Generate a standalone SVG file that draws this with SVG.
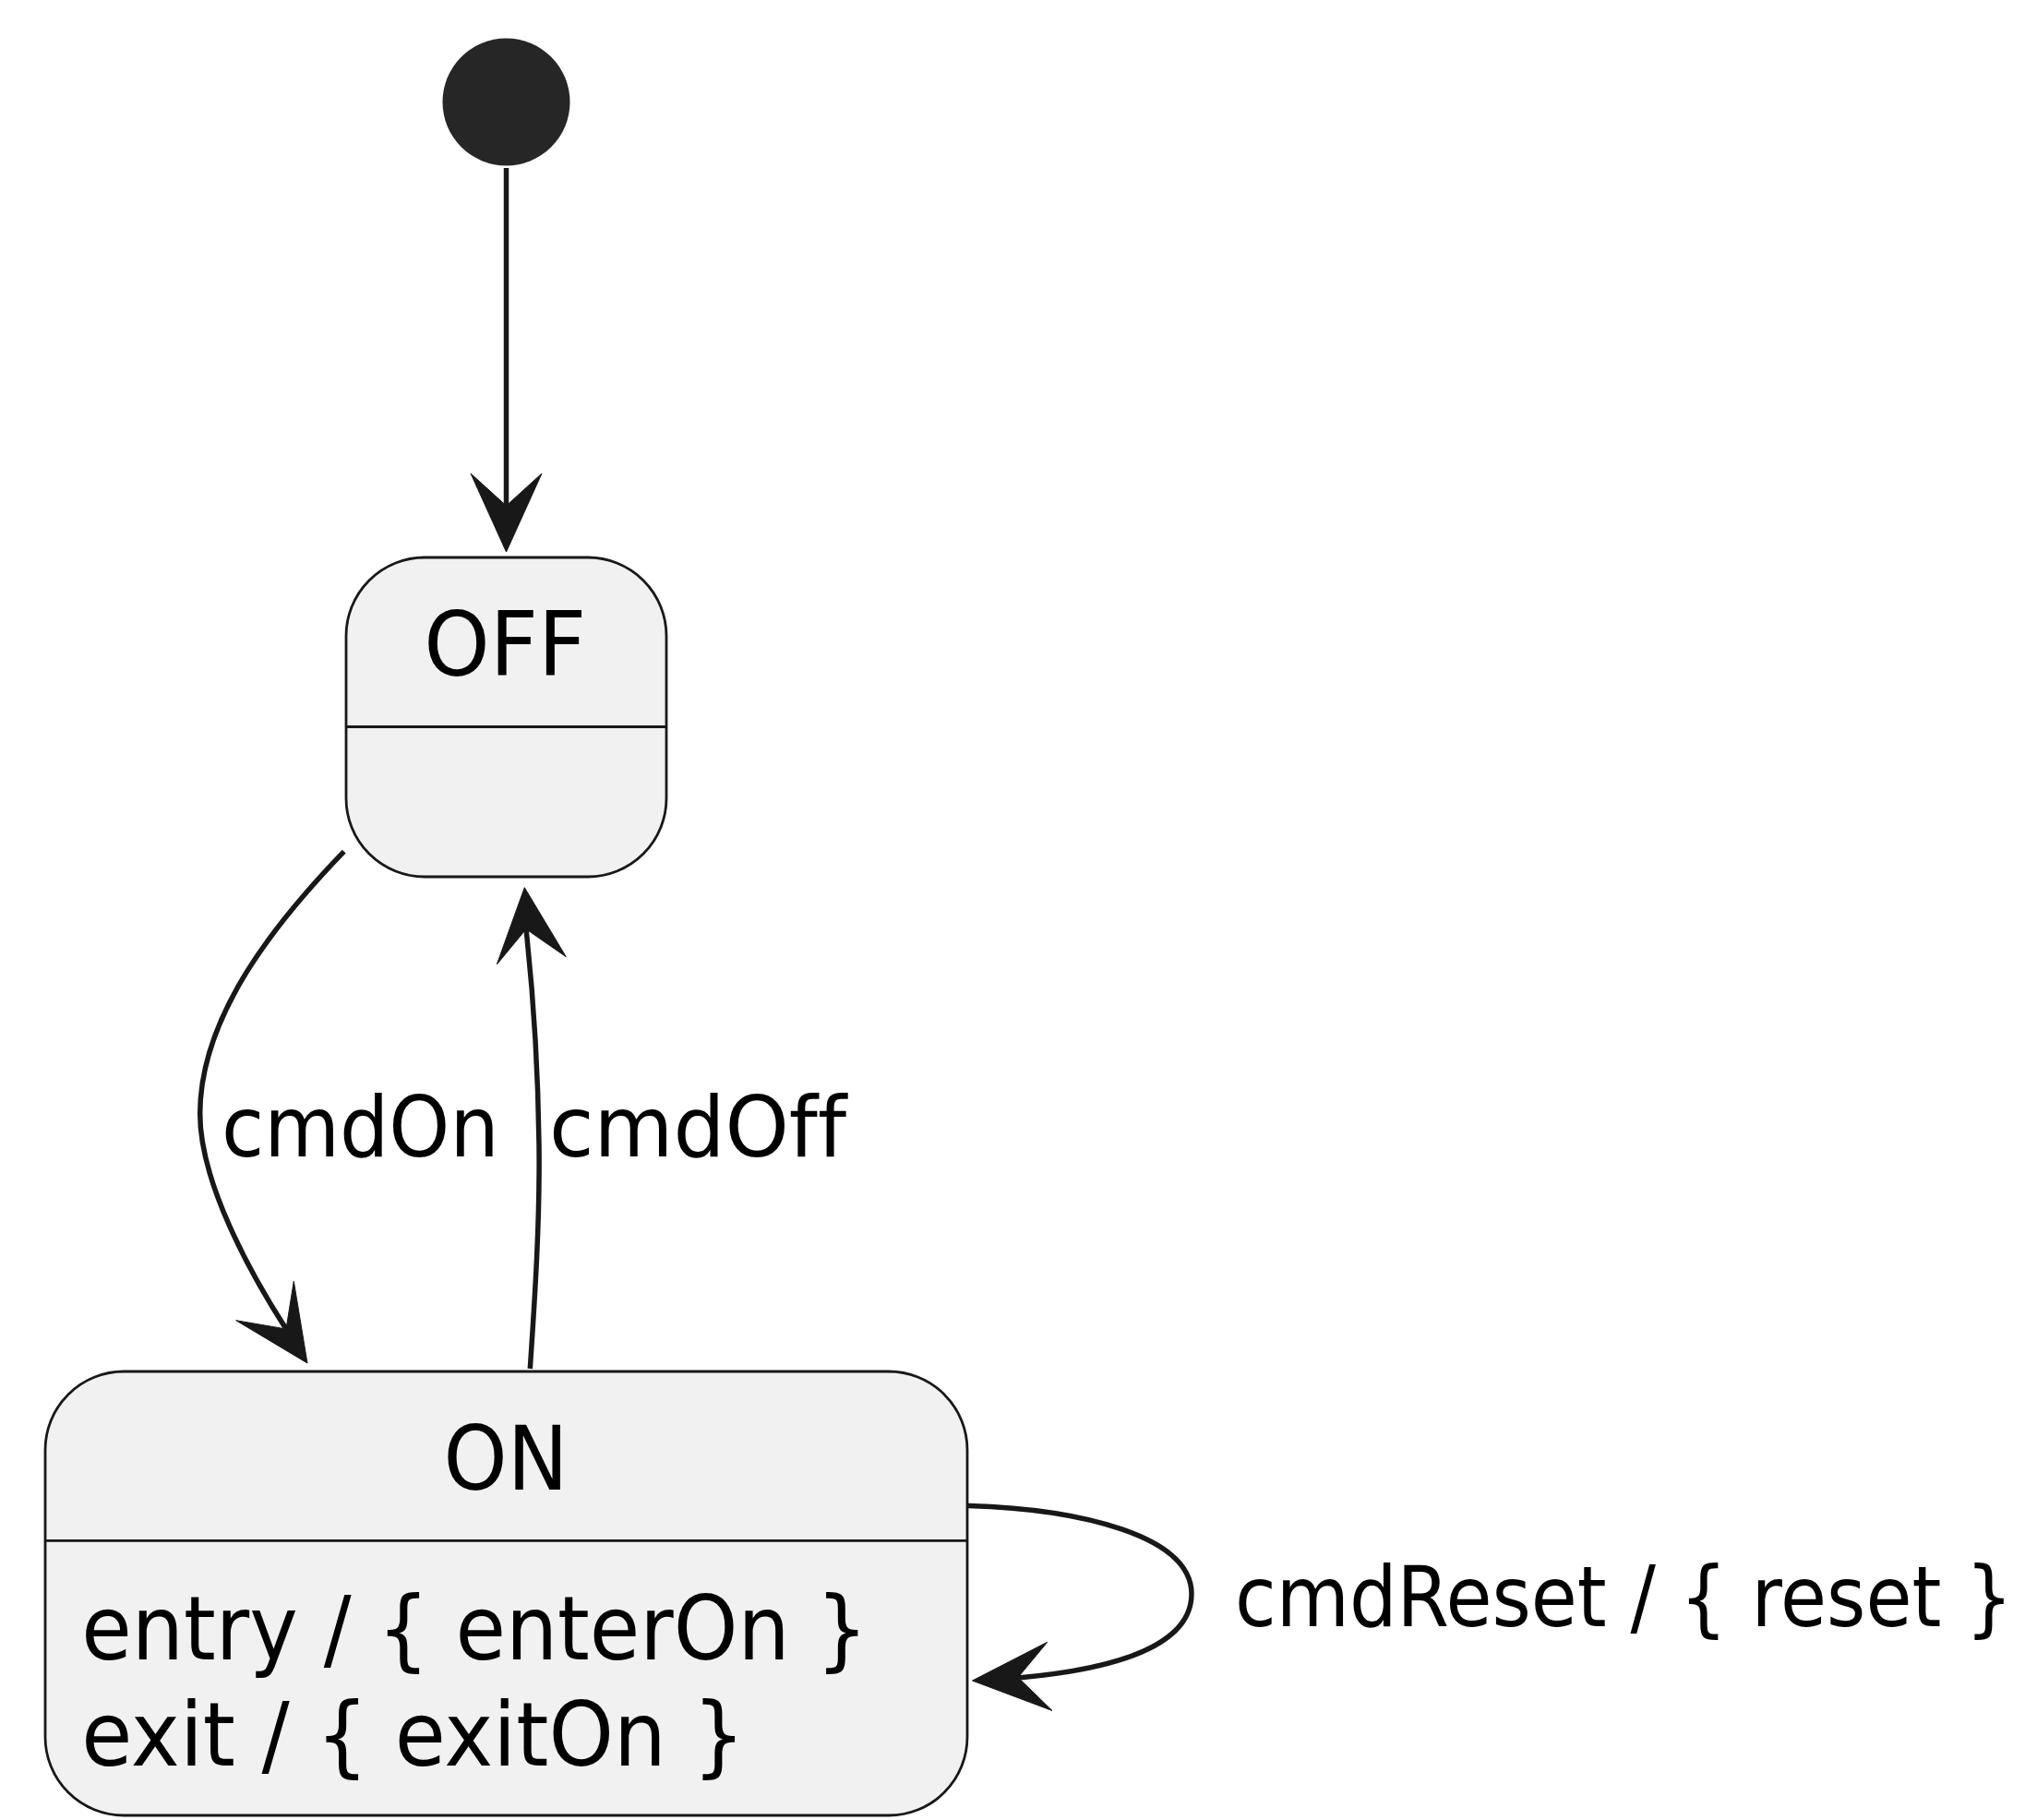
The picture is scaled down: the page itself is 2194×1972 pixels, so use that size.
<svg xmlns="http://www.w3.org/2000/svg" width="2194" height="1972" viewBox="0 0 2194 1972">
<defs>
<style>
.state{fill:#F1F1F1;stroke:#181818;stroke-width:2.8}
.sep{stroke:#181818;stroke-width:2.8}
.edge{fill:none;stroke:#181818;stroke-width:5.5}
.head{fill:#181818;stroke:#181818;stroke-width:1}
.name{font-family:"DejaVu Sans","Liberation Sans",sans-serif;font-size:97px;fill:#000;font-variant-ligatures:none}
.label{font-family:"DejaVu Sans","Liberation Sans",sans-serif;font-size:90.5px;fill:#000;font-variant-ligatures:none}
</style>
</defs>
<rect width="2194" height="1972" fill="#FFFFFF"/>
<g id="start">
<circle cx="548.5" cy="110.5" r="69" fill="#262626"/>
</g>
<g id="OFF">
<rect class="state" x="375" y="604" width="347" height="346" rx="85" ry="85"/>
<line class="sep" x1="375" y1="787.5" x2="722" y2="787.5"/>
<text class="name" x="459.3" y="732.3" textLength="176" lengthAdjust="spacingAndGlyphs">OFF</text>
</g>
<g id="ON">
<rect class="state" x="49" y="1486" width="999" height="481" rx="85" ry="85"/>
<line class="sep" x1="49" y1="1669.3" x2="1048" y2="1669.3"/>
<text class="name" x="480.5" y="1614.3" textLength="135" lengthAdjust="spacingAndGlyphs">ON</text>
<text class="name" x="88.3" y="1798.3" textLength="852" lengthAdjust="spacingAndGlyphs">entry / { enterOn }</text>
<text class="name" x="88.3" y="1913.3" textLength="719" lengthAdjust="spacingAndGlyphs">exit / { exitOn }</text>
</g>
<g id="connectors">
<g id="start-OFF">
<line class="edge" x1="548.5" y1="182" x2="548.5" y2="550"/>
<polygon class="head" points="548.5,598 510,513 548.5,548 587,513"/>
</g>
<g id="OFF-ON">
<path class="edge" d="M372.7,922.7 C300,998 216.7,1100 216.7,1206.7 C216.7,1280 269.5,1377 310,1440"/>
<polygon class="head" points="333,1477 255.7,1430.7 310,1440 318.3,1388.3"/>
<text class="label" x="240" y="1253.3" textLength="300.7" lengthAdjust="spacingAndGlyphs">cmdOn</text>
</g>
<g id="ON-OFF">
<path class="edge" d="M574.3,1483 C580,1400 585,1320 584,1240 C583,1160 578,1080 570,1006.7"/>
<polygon class="head" points="568.3,961.7 538.3,1045 570,1006.7 613.3,1036.7"/>
<text class="label" x="595" y="1253.3" textLength="322" lengthAdjust="spacingAndGlyphs">cmdOff</text>
</g>
<g id="ON-ON">
<path class="edge" d="M1049,1631.5 C1170,1635 1291,1664 1291,1727 C1291,1781 1215,1808 1103,1818"/>
<polygon class="head" points="1053.5,1821 1134.7,1779.3 1103,1817.5 1140,1853.5"/>
<text class="label" transform="translate(1338 1761.7) scale(0.893 1)" x="0" y="0" textLength="944" lengthAdjust="spacingAndGlyphs">cmdReset / { reset }</text>
</g>
</g>
</svg>
